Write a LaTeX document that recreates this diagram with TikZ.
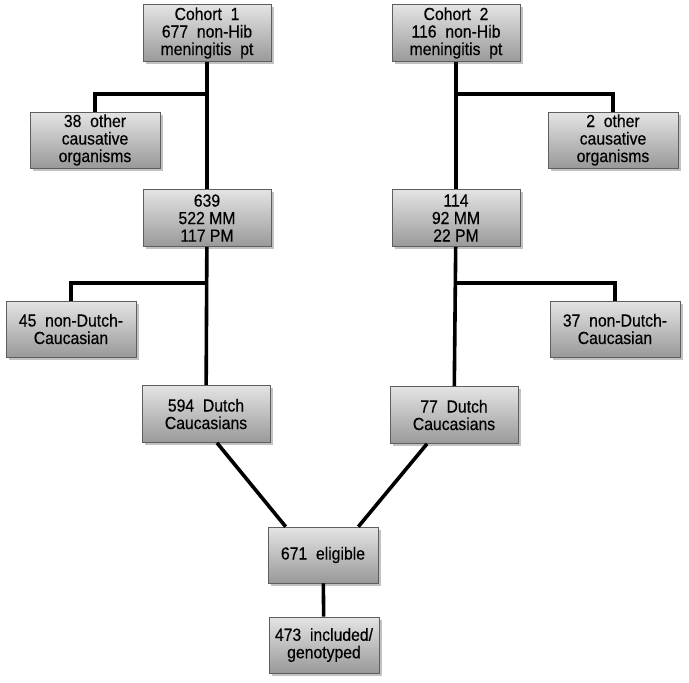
\documentclass[tikz,border=0pt]{standalone}
\usepackage{fontspec}
\setmainfont[FakeStretch=0.9,FakeBold=0.4]{Liberation Sans}
\usetikzlibrary{positioning,shadows}
\definecolor{boxTop}{HTML}{E4E4E4}
\definecolor{boxBottom}{HTML}{999999}
\definecolor{boxRule}{HTML}{5E5E5E}

\begin{document}
\begin{tikzpicture}[x=1pt,y=1pt,
    font=\fontsize{17.5}{17.5}\selectfont,
    flowbox/.style={draw=boxRule,line width=0.7pt,
      top color=boxTop,bottom color=boxBottom,
      minimum width=128pt,minimum height=57pt,
      inner sep=2pt,align=center,
      drop shadow={shadow xshift=2.5pt,shadow yshift=-2.5pt,opacity=0.4,fill=black!60}},
    sidebox/.style={flowbox,minimum width=130pt,minimum height=56pt},
    smallbox/.style={flowbox,minimum width=110pt,minimum height=56pt},
    link/.style={line width=3.6pt}]
    \useasboundingbox (0,0) rectangle (689,-683);
    % junctions of the side branches
    \coordinate (j1a) at (207,-94);
    \coordinate (j2a) at (456,-94);
    \coordinate (j1b) at (207,-283);
    \coordinate (j2b) at (456,-283);
    % cohort 1 branch
    \node[flowbox] (coh1) at (207,-33) {Cohort\ \ 1\\677\ \ non-Hib\\meningitis\ \ pt};
    \node[sidebox] (oth1) at (95,-140) {38\ \ other\\causative\\organisms};
    \node[flowbox] (mm1) at (207,-218) {639\\522 MM\\117 PM};
    \node[sidebox] (nd1) at (71,-329) {45\ \ non-Dutch-\\Caucasian};
    \node[flowbox] (dc1) at (206,-414) {594\ \ Dutch\\Caucasians};
    % cohort 2 branch
    \node[flowbox] (coh2) at (456,-33) {Cohort\ \ 2\\116\ \ non-Hib\\meningitis\ \ pt};
    \node[sidebox] (oth2) at (613,-140) {2\ \ other\\causative\\organisms};
    \node[flowbox] (mm2) at (456,-218) {114\\92 MM\\22 PM};
    \node[sidebox] (nd2) at (615,-329) {37\ \ non-Dutch-\\Caucasian};
    \node[flowbox] (dc2) at (454,-415) {77\ \ Dutch\\Caucasians};
    % merged
    \node[smallbox] (elig) at (323,-555) {671\ \ eligible};
    \node[smallbox] (incl) at (324,-645) {473\ \ included/\\genotyped};

    \draw[link] (coh1) -- (mm1);
    \draw[link] (mm1) -- (dc1);
    \draw[link] (coh2) -- (mm2);
    \draw[link] (mm2) -- (dc2);
    \draw[link] (j1a) -| (oth1);
    \draw[link] (j2a) -| (oth2);
    \draw[link] (j1b) -| (nd1);
    \draw[link] (j2b) -| (nd2);
    \draw[link] ([xshift=11pt]dc1.south) -- ([xshift=18pt]elig.north west);
    \draw[link] ([xshift=-27pt]dc2.south) -- ([xshift=-20pt]elig.north east);
    \draw[link] (elig) -- (incl);
  \end{tikzpicture}
\end{document}
